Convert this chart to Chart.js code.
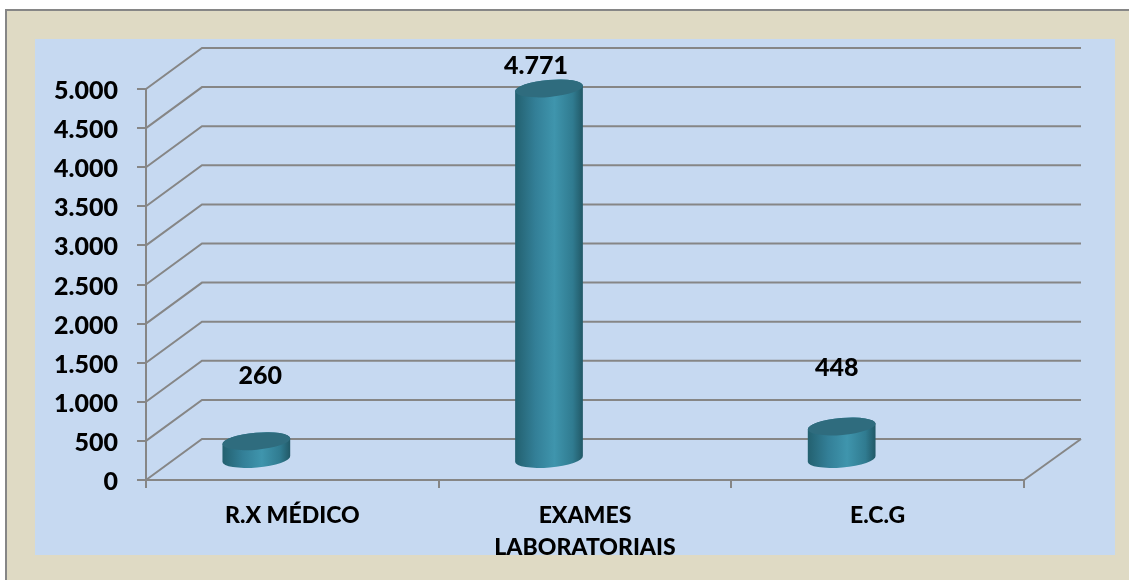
<!DOCTYPE html>
<html>
<head>
<meta charset="utf-8">
<script src="https://cdn.jsdelivr.net/npm/chart.js@4"></script>
<style>
  html, body { margin: 0; padding: 0; background: #fff; overflow: hidden; }
  #frame { position: absolute; left: 5px; top: 9px; width: 1124px; height: 571px; box-sizing: border-box;
           background: #dfdac4; border: 2px solid #868686; border-right: none; border-bottom: none; }
  #plot { position: absolute; left: 35px; top: 39px; width: 1080px; height: 516px; background: #c6d9f1; }
  #wrap { position: absolute; left: 0; top: 0; width: 1129px; height: 580px; }
</style>
</head>
<body>
<div id="frame"></div>
<div id="plot"></div>
<div id="wrap"><canvas id="barChart" width="1129" height="580"></canvas></div>
<script>
const categories = ['R.X MÉDICO', ['EXAMES', 'LABORATORIAIS'], 'E.C.G'];
const exams = [260, 4771, 448];
const axisMax = 5000;
const axisStep = 500;

const lineColor = '#868686';
const textFont = { family: 'Lato', weight: 900, size: 25 };

// 3D look: the back wall sits up and to the right of the front axes
const depthX = 56, depthY = 41;
// the cylinders stand on the floor, a bit off the band centre
const barShiftX = -36, topShiftY = -18.5, baseShiftY = -20;
// Excel labels were moved by hand, offset from the top of the cylinder
const labelShift = [[4, -65], [-13, -22], [-5, -59]];

const wallPlugin = {
  id: 'wall',
  beforeDatasetsDraw(chart) {
    const { ctx, chartArea: a, scales: { y } } = chart;
    ctx.save();
    ctx.strokeStyle = lineColor;
    ctx.lineWidth = 2;
    y.ticks.forEach(t => {
      const py = y.getPixelForValue(t.value);
      ctx.beginPath();
      ctx.moveTo(a.left, py);
      ctx.lineTo(a.left + depthX, py - depthY);
      ctx.lineTo(a.right + depthX + 1, py - depthY);
      ctx.stroke();
    });
    // floor right edge
    ctx.beginPath();
    ctx.moveTo(a.right, a.bottom);
    ctx.lineTo(a.right + depthX + 1, a.bottom - depthY);
    ctx.stroke();
    ctx.restore();
  }
};

const cylinderPlugin = {
  id: 'cylinder',
  beforeDatasetDraw(chart, args) {
    const { ctx } = chart;
    const tilt = -5 * Math.PI / 180;
    args.meta.data.forEach((bar, i) => {
      const cx = bar.x + barShiftX;
      const top = bar.y + topShiftY;
      const base = bar.base + baseShiftY;
      const rx = bar.width / 2, ry = 8.5;

      const grad = ctx.createLinearGradient(cx - rx, 0, cx + rx, 0);
      grad.addColorStop(0, '#23606f');
      grad.addColorStop(0.3, '#337f97');
      grad.addColorStop(0.58, '#3f95ad');
      grad.addColorStop(0.85, '#307b90');
      grad.addColorStop(1, '#215866');

      ctx.save();
      ctx.fillStyle = grad;
      ctx.beginPath();
      ctx.ellipse(cx, top, rx, ry, tilt, Math.PI, 0, false);
      ctx.ellipse(cx, base, rx, ry, tilt, 0, Math.PI, false);
      ctx.closePath();
      ctx.fill();

      ctx.fillStyle = '#2f6c7e';
      ctx.beginPath();
      ctx.ellipse(cx, top, rx, ry, tilt, 0, Math.PI * 2);
      ctx.fill();
      ctx.restore();

      // value label
      ctx.save();
      ctx.font = textFont.weight + ' ' + textFont.size + 'px ' + textFont.family;
      ctx.fillStyle = '#000';
      ctx.textAlign = 'center';
      ctx.textBaseline = 'middle';
      ctx.fillText(exams[i].toLocaleString('pt-BR'), cx + labelShift[i][0], top + labelShift[i][1]);
      ctx.restore();
    });
    return false; // cylinder replaces the flat bar
  }
};

new Chart(document.getElementById('barChart'), {
  type: 'bar',
  data: {
    labels: categories,
    datasets: [{
      label: 'Exames',
      data: exams,
      backgroundColor: '#33819a',
      barThickness: 68
    }]
  },
  options: {
    responsive: false,
    animation: false,
    layout: { padding: { top: 89, right: 105, left: 0, bottom: 0 } },
    plugins: { legend: { display: false }, title: { display: false }, tooltip: { enabled: false } },
    scales: {
      x: {
        afterFit: s => { s.height = 100; },
        border: { color: lineColor, width: 2 },
        grid: { color: lineColor, lineWidth: 2, drawOnChartArea: false, tickLength: 8 },
        ticks: {
          color: '#000',
          font: { ...textFont, size: 23, lineHeight: 1.4 },
          padding: 11,
          maxRotation: 0,
          autoSkip: false
        }
      },
      y: {
        min: 0,
        max: axisMax,
        afterFit: s => { s.width = 146; },
        border: { color: lineColor, width: 2 },
        grid: { color: lineColor, lineWidth: 2, drawOnChartArea: false, tickLength: 9 },
        ticks: {
          stepSize: axisStep,
          color: '#000',
          font: textFont,
          padding: 19,
          labelOffset: 2,
          callback: v => v.toLocaleString('pt-BR')
        }
      }
    }
  },
  plugins: [wallPlugin, cylinderPlugin]
});
</script>
</body>
</html>
